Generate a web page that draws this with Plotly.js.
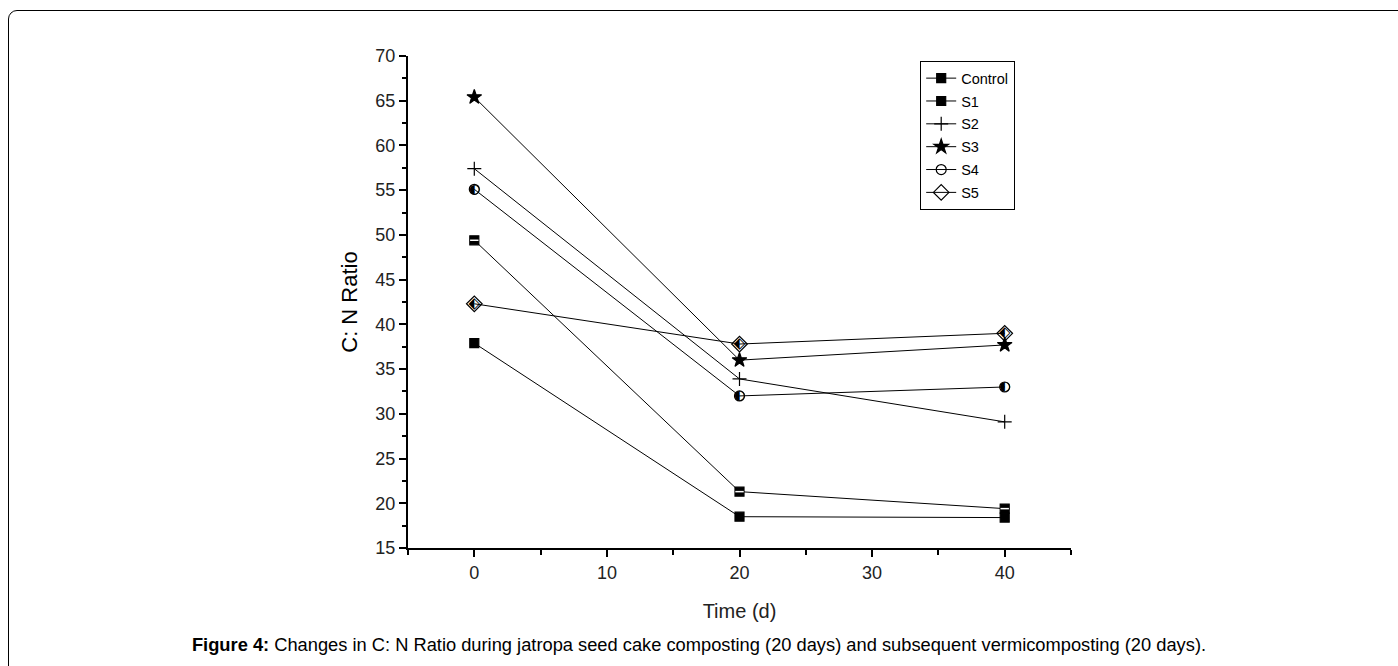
<!DOCTYPE html>
<html>
<head>
<meta charset="utf-8">
<script src="https://cdn.plot.ly/plotly-3.0.1.min.js"></script>
<style>
  html, body { margin: 0; padding: 0; background: #fff; width: 1398px; height: 666px; overflow: hidden; }
  #frame { position: absolute; left: 8px; top: 10px; width: 1400px; height: 700px;
           border: 1.5px solid #000; border-radius: 9px; box-sizing: border-box; }
  #chart { position: absolute; left: 0; top: 0; width: 1398px; height: 666px; }
  #caption { position: absolute; left: 0; top: 634px; width: 1398px; text-align: center;
             font-family: "Liberation Sans", Arial, sans-serif; font-size: 18.3px; color: #000; }
</style>
</head>
<body>
<div id="frame"></div>
<div id="chart"></div>
<div id="caption"><b>Figure 4:</b> Changes in C: N Ratio during jatropa seed cake composting (20 days) and subsequent vermicomposting (20 days).</div>
<script>
const days = [0, 20, 40];
const control = [37.9, 18.5, 18.4];
const s1 = [49.4, 21.3, 19.4];
const s2 = [57.4, 33.9, 29.1];
const s3 = [65.4, 36.0, 37.7];
const s4 = [55.1, 32.0, 33.0];
const s5 = [42.3, 37.8, 39.0];
const names = ['Control', 'S1', 'S2', 'S3', 'S4', 'S5'];
const xTicks = [0, 10, 20, 30, 40];
const yTicks = [15, 20, 25, 30, 35, 40, 45, 50, 55, 60, 65, 70];

const series = [control, s1, s2, s3, s4, s5];
const symbols = ['square', 'square', 'cross-thin', 'star', 'circle-open', 'diamond-open'];
const sizes = [9, 9, 10, 11, 10, 12];
const glyphs = [null, null, null, null, '\u25D0', '\u2B16'];

const traces = [];
series.forEach((ys, i) => {
  traces.push({
    x: days, y: ys, name: names[i], type: 'scatter', mode: 'lines+markers',
    legendgroup: 'g' + i,
    line: { color: '#000', width: 1 },
    marker: { symbol: symbols[i], size: sizes[i], color: '#000',
              line: { color: '#000', width: 1.2 } },
    cliponaxis: false
  });
});
// S1 white stripe overlay
traces.push({
  x: days, y: s1, type: 'scatter', mode: 'markers', showlegend: false, hoverinfo: 'skip',
  marker: { symbol: 'line-ew', size: 6, line: { color: '#fff', width: 1.5 } }, cliponaxis: false
});
// half-filled glyph overlays for S4, S5
[4, 5].forEach(i => {
  traces.push({
    x: days, y: series[i], type: 'scatter', mode: 'text', showlegend: false, hoverinfo: 'skip',
    text: days.map(() => glyphs[i]), textposition: 'middle center',
    textfont: { family: 'DejaVu Sans', size: i === 4 ? 13 : 15, color: '#000' }, cliponaxis: false
  });
});

const axisFont = { family: '"Liberation Sans", Arial, sans-serif', size: 18, color: '#222' };

const layout = {
  width: 1398, height: 666,
  margin: { l: 408, r: 327, t: 56, b: 118, autoexpand: false },
  paper_bgcolor: 'rgba(0,0,0,0)', plot_bgcolor: 'rgba(0,0,0,0)',
  showlegend: true,
  legend: {
    x: 920 / 1398, y: 1 - 61 / 666, xref: 'container', yref: 'container',
    xanchor: 'left', yanchor: 'top',
    bgcolor: '#fff', bordercolor: '#000', borderwidth: 1.2,
    font: { family: '"Liberation Sans", Arial, sans-serif', size: 14.5, color: '#000' },
    tracegroupgap: 1, itemwidth: 30
  },
  xaxis: {
    range: [-5, 45], tickvals: xTicks, ticktext: xTicks.map(String),
    showgrid: false, zeroline: false, showline: true, linecolor: '#000', linewidth: 2,
    ticks: 'outside', ticklen: 7, tickwidth: 2, tickcolor: '#000',
    minor: { dtick: 5, tick0: 0, ticks: 'outside', ticklen: 5, tickwidth: 2, tickcolor: '#000' },
    tickfont: axisFont,
    title: { text: 'Time (d)', font: { family: '"Liberation Sans", Arial, sans-serif', size: 20, color: '#222' }, standoff: 22 }
  },
  yaxis: {
    range: [15, 70], tickvals: yTicks, ticktext: yTicks.map(String),
    showgrid: false, zeroline: false, showline: true, linecolor: '#000', linewidth: 2,
    ticks: 'outside', ticklen: 7, tickwidth: 2, tickcolor: '#000',
    minor: { dtick: 2.5, tick0: 15, ticks: 'outside', ticklen: 4, tickwidth: 2, tickcolor: '#000' },
    tickfont: axisFont,
    title: { text: 'C: N Ratio', font: { family: '"Liberation Sans", Arial, sans-serif', size: 22, color: '#000' }, standoff: 12 }
  }
};

Plotly.newPlot('chart', traces, layout, { staticPlot: true, displayModeBar: false });
</script>
</body>
</html>
